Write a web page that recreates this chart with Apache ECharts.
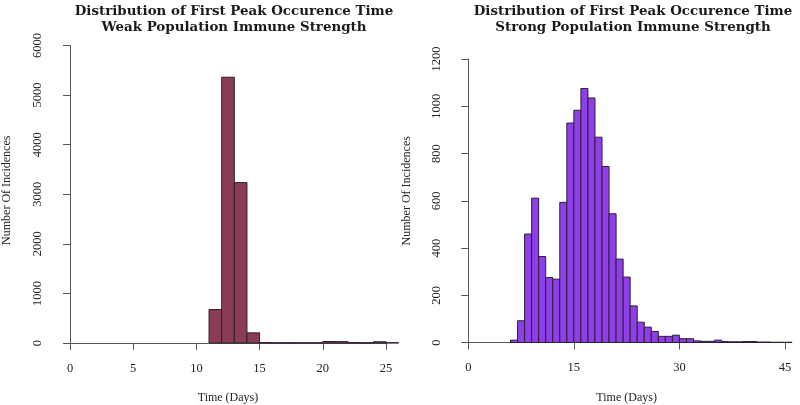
<!DOCTYPE html>
<html>
<head>
<meta charset="utf-8">
<script src="https://cdn.jsdelivr.net/npm/echarts@6/dist/echarts.min.js"></script>
<style>
html,body{margin:0;padding:0;background:#fff;}
#chart{width:800px;height:405px;}
</style>
</head>
<body>
<div id="chart"></div>
<script>
// ---- data (histogram bins of width 1 day) ----
const weakBinStart = [11,12,13,14,15,16,17,18,19,20,21,22,23,24,25];
const weakCounts   = [675,5360,3235,205,8,5,6,4,5,30,28,8,6,25,6];

const strongBinStart = [6,7,8,9,10,11,12,13,14,15,16,17,18,19,20,21,22,23,24,25,26,27,28,29,30,31,32,33,34,35,36,37,38,39,40,41,42,43,44,45];
const strongCounts   = [10,92,459,611,364,275,268,593,929,983,1075,1035,869,745,545,353,277,155,86,65,47,26,26,31,16,16,7,5,5,10,4,3,3,4,4,2,2,1,1,1];

const titles = [
  'Distribution of First Peak Occurence Time\nWeak Population Immune Strength',
  'Distribution of First Peak Occurence Time\nStrong Population Immune Strength'
];
const xName = 'Time (Days)';
const yName = 'Number Of Incidences';

function toBins(starts, counts){ return starts.map((s,i)=>[s, s+1, counts[i]]); }

const FONT = 'Liberation Serif';
const TFONT = 'DejaVu Serif';
const axisColor = '#555';
const textColor = '#222';

function histRender(fill){
  return function(params, api){
    const x0 = api.value(0), x1 = api.value(1), v = api.value(2);
    const p0 = api.coord([x0, v]);
    const p1 = api.coord([x1, 0]);
    return {
      type:'rect',
      shape:{x:p0[0], y:p0[1], width:p1[0]-p0[0], height:p1[1]-p0[1]},
      style:{fill:fill, stroke:'#2e1f30', lineWidth:1}
    };
  };
}

function xAxisOpt(gridIndex, max, interval){
  return {
    type:'value', gridIndex:gridIndex, min:0, max:max, interval:interval,
    splitLine:{show:false},
    axisLine:{show:true, lineStyle:{color:axisColor, width:1}},
    axisTick:{show:true, length:7, lineStyle:{color:axisColor}},
    axisLabel:{margin:19, color:textColor, fontFamily:FONT, fontSize:12.5, formatter:v=>String(v)},
    name:xName, nameLocation:'middle', nameGap:49,
    nameTextStyle:{color:textColor, fontFamily:FONT, fontSize:12}
  };
}
function yAxisOpt(gridIndex, max, interval, offset, padUp){
  return {
    type:'value', gridIndex:gridIndex, min:0, max:max, interval:interval,
    offset:offset,
    splitLine:{show:false},
    axisLine:{show:true, lineStyle:{color:axisColor, width:1}},
    axisTick:{show:true, length:7, lineStyle:{color:axisColor}},
    axisLabel:{rotate:90, margin:13, color:textColor, fontFamily:FONT, fontSize:12.5, formatter:v=>String(v)},
    name:yName, nameLocation:'middle', nameGap:44, nameRotate:90,
    nameTextStyle:{color:textColor, fontFamily:FONT, fontSize:12, padding:[0,0,0,padUp]}
  };
}

const chart = echarts.init(document.getElementById('chart'), null, {renderer:'canvas'});
chart.setOption({
  animation:false,
  backgroundColor:'#fff',
  title:[
    {text:titles[0], left:229, top:-1, textAlign:'center',
     textStyle:{fontFamily:TFONT, fontWeight:'bold', fontSize:13.4, lineHeight:16, color:'#1a1a1a'}},
    {text:titles[1], left:628, top:-1, textAlign:'center',
     textStyle:{fontFamily:TFONT, fontWeight:'bold', fontSize:13.4, lineHeight:16, color:'#1a1a1a'}}
  ],
  grid:[
    {left:70, top:45.5, width:316, height:297.5, outerBoundsMode:'none'},
    {left:468.3, top:59, width:316.7, height:283.5, outerBoundsMode:'none'}
  ],
  xAxis:[ xAxisOpt(0, 25, 5), xAxisOpt(1, 45, 15) ],
  yAxis:[ yAxisOpt(0, 6000, 1000, 12.7, 8), yAxisOpt(1, 1200, 200, 11.8, 20) ],
  series:[
    {type:'custom', xAxisIndex:0, yAxisIndex:0, clip:false,
     renderItem:histRender('#8b3c55'), encode:{x:[0,1], y:2},
     data:toBins(weakBinStart, weakCounts)},
    {type:'custom', xAxisIndex:1, yAxisIndex:1, clip:false,
     renderItem:histRender('#8e3fea'), encode:{x:[0,1], y:2},
     data:toBins(strongBinStart, strongCounts)}
  ]
});
</script>
</body>
</html>
